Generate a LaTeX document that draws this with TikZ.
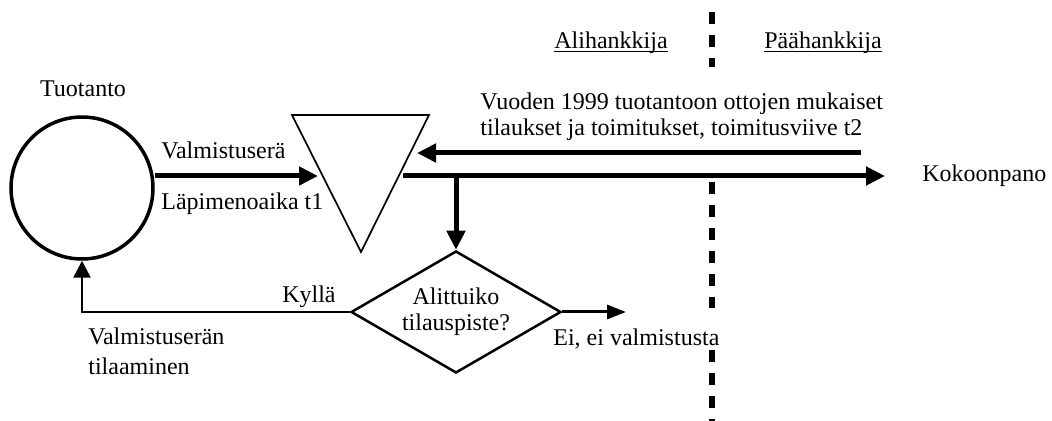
\documentclass[tikz,border=0pt]{standalone}
\usepackage{fontspec}
\setmainfont{Liberation Serif}
\usetikzlibrary{arrows.meta,shapes.geometric}
\begin{document}
\begin{tikzpicture}[x=0.5pt,y=-0.5pt,
  font=\fontsize{12}{13}\selectfont,
  lbl/.style={inner sep=0pt},
  uline/.style={line width=0.55pt},
  bigarrow/.style={line width=2.5pt,-{Triangle[length=9.5pt,width=9pt]}},
  midarrow/.style={line width=1.5pt,-{Triangle[length=9.5pt,width=7pt]}},
  thinarrow/.style={line width=1.25pt,-{Triangle[length=8.5pt,width=8.5pt]}},
  divider/.style={line width=2.75pt,dash pattern=on 6pt off 5.5pt},
  ]
\useasboundingbox (0,0) rectangle (1052,421);

% production circle
\node[circle,draw,line width=1.75pt,minimum size=71pt,inner sep=0pt] (circ) at (82,188) {};
\node[lbl,anchor=base] (tuo) at (83,97) {Tuotanto};

% stock triangle
\coordinate (triA) at (292,115);
\coordinate (triB) at (429,115);
\coordinate (triC) at (361,252);
\draw[line width=0.85pt,line join=miter] (triA) -- (triB) -- (triC) -- cycle;

\coordinate (triInL) at (318,176);
\coordinate (triInR) at (417,153);
\coordinate (triOut) at (403,176);
\coordinate (ordSrc) at (861,153);
\coordinate (junc) at (456,176);
\coordinate (eiEnd) at (626,312);

% labels
\node[lbl,anchor=base west] (valm) at (161,159) {Valmistuserä};
\node[lbl,anchor=base west] (lapi) at (161,210) {Läpimenoaika t1};
\node[lbl,anchor=north west,align=left] (vuod) at (480,92)
  {Vuoden 1999 tuotantoon ottojen mukaiset\\tilaukset ja toimitukset, toimitusviive t2};
\node[lbl,anchor=base west] (kok) at (922,182) {Kokoonpano};
\node[lbl,anchor=base] (ali) at (611,49) {Alihankkija};
\node[lbl,anchor=base] (paa) at (823,49) {Päähankkija};
\draw[uline] ([yshift=-1.4pt]ali.base west) -- ([yshift=-1.4pt]ali.base east);
\draw[uline] ([yshift=-1.4pt]paa.base west) -- ([yshift=-1.4pt]paa.base east);

% decision
\node[diamond,draw,line width=1.25pt,minimum width=105pt,minimum height=61pt,
      inner sep=0pt,aspect=1.72,align=center] (dia) at (456,312) {Alittuiko\\tilauspiste?};
\node[lbl,anchor=base east] (kyl) at (336,303) {Kyllä};
\node[lbl,anchor=north west,align=left] (vtil) at (88,327) {Valmistuserän\\[2pt]tilaaminen};
\node[lbl,anchor=base west] (ei) at (553,345) {Ei, ei valmistusta};

% connectors
\draw[bigarrow] (circ.east |- triInL) -- (triInL);
\draw[bigarrow] (ordSrc) -- (triInR);
\draw[bigarrow,shorten >=18.5pt] (triOut) -- (triOut -| kok.west);
\draw[bigarrow] (junc) -- (dia.north);
\draw[midarrow] (dia.east) -- (eiEnd);
\draw[thinarrow] (dia.west) -| (circ.south);

% divider
\coordinate (d1) at (712,12);
\coordinate (d2) at (712,67);
\coordinate (d3) at (712,182);
\coordinate (d4) at (712,308);
\coordinate (d5) at (712,350);
\coordinate (d6) at (712,421);
\draw[divider] (d1) -- (d2);
\draw[divider] (d3) -- (d4);
\draw[divider] (d5) -- (d6);
\end{tikzpicture}
\end{document}
